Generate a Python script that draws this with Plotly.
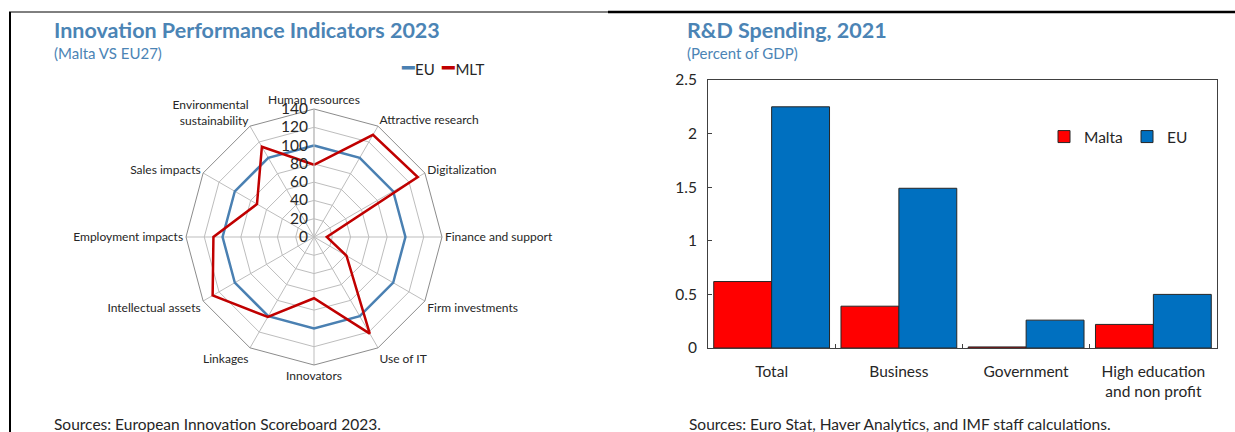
import plotly.graph_objects as go

# Radar: innovation performance (EU27 = 100)
indicators = [
    "Human resources", "Attractive research", "Digitalization",
    "Finance and support", "Firm investments", "Use of IT", "Innovators",
    "Linkages", "Intellectual assets", "Employment impacts", "Sales impacts",
    "Environmental<br>sustainability",
]
eu_scores = [100, 100, 100, 100, 100, 100, 100, 100, 100, 100, 100, 100]
mlt_scores = [79, 129, 131, 14, 41, 122, 67, 101, 128, 110, 72, 114]

# Bars: R&D spending, percent of GDP
sectors = ["Total", "Business", "Government", "High education<br>and non profit"]
malta_rd = [0.62, 0.39, 0.01, 0.22]
eu_rd = [2.25, 1.49, 0.26, 0.50]

TITLE_BLUE = "#4B84B5"
EU_LINE = "#4A80B2"
MLT_LINE = "#C00000"
FONT = "Lato"
W, H = 1235, 432


def px_x(v):
    return v / W


def px_y(v):
    return 1 - v / H


fig = go.Figure()

fig.add_trace(go.Scatterpolar(
    r=eu_scores + eu_scores[:1], theta=indicators + indicators[:1],
    mode="lines", name="EU", line=dict(color=EU_LINE, width=2.5),
    subplot="polar", showlegend=False,
))
fig.add_trace(go.Scatterpolar(
    r=mlt_scores + mlt_scores[:1], theta=indicators + indicators[:1],
    mode="lines", name="MLT", line=dict(color=MLT_LINE, width=2.5),
    subplot="polar", showlegend=False,
))

fig.add_trace(go.Bar(
    x=sectors, y=malta_rd, name="Malta", marker_color="#FF0000",
    marker_line=dict(color="#262626", width=1),
))
fig.add_trace(go.Bar(
    x=sectors, y=eu_rd, name="EU", marker_color="#0070C0",
    marker_line=dict(color="#262626", width=1),
))

cx, cy, rad = 314, 237, 128
fig.update_layout(
    width=W, height=H,
    margin=dict(l=0, r=0, t=0, b=0, autoexpand=False),
    paper_bgcolor="white", plot_bgcolor="white",
    font=dict(family=FONT, color="#262626", size=14),
    barmode="group", bargap=0.09, bargroupgap=0,
    polar=dict(
        domain=dict(x=[px_x(cx - rad), px_x(cx + rad)],
                    y=[px_y(cy + rad), px_y(cy - rad)]),
        bgcolor="white",
        gridshape="linear",
        angularaxis=dict(
            direction="clockwise", rotation=90,
            gridcolor="#BDBDBD", linecolor="#8C8C8C", linewidth=1,
            tickfont=dict(size=12, color="#262626"), ticks="",
        ),
        radialaxis=dict(
            range=[0, 140], dtick=20, angle=90, tickangle=90,
            side="counterclockwise",
            gridcolor="#BDBDBD", linecolor="#BDBDBD", showline=True,
            tickfont=dict(size=15.5, color="#262626"), ticks="",
        ),
    ),
    xaxis=dict(
        domain=[px_x(708), px_x(1217)], anchor="y",
        showline=True, linecolor="#404040", mirror=True,
        ticks="inside", tickson="boundaries", ticklen=4, tickcolor="#404040",
        tickfont=dict(size=15.5), showgrid=False, ticklabelstandoff=9,
    ),
    yaxis=dict(
        domain=[px_y(348), px_y(80)], anchor="x",
        range=[0, 2.5], dtick=0.5,
        showline=True, linecolor="#404040", mirror=True,
        ticks="inside", ticklen=4, tickcolor="#404040",
        tickfont=dict(size=15.5), showgrid=False, zeroline=False,
        ticklabelstandoff=7,
    ),
    legend=dict(
        orientation="h", x=px_x(1044), y=px_y(120), xanchor="left", yanchor="top",
        font=dict(size=15.5), bgcolor="rgba(0,0,0,0)",
        entrywidth=38, entrywidthmode="pixels",
    ),
)

texts = [
    (52, 30, "<b>Innovation Performance Indicators 2023</b>", 21.5, TITLE_BLUE),
    (52, 53, "(Malta VS EU27)", 15, TITLE_BLUE),
    (685, 30, "<b>R&D Spending, 2021</b>", 21.5, TITLE_BLUE),
    (685, 53, "(Percent of GDP)", 15, TITLE_BLUE),
    (52, 424, "Sources: European Innovation Scoreboard 2023.", 15.5, "#262626"),
    (687, 424, "Sources: Euro Stat, Haver Analytics, and IMF staff calculations.", 15.5, "#262626"),
    (399, 66, f"<span style='color:{EU_LINE};font-size:21px'>━</span>EU  "
              f"<span style='color:{MLT_LINE};font-size:21px'>━</span>MLT", 15, "#262626"),
]
for x, y, t, s, c in texts:
    fig.add_annotation(
        x=px_x(x), y=px_y(y), xref="paper", yref="paper", text=t,
        showarrow=False, xanchor="left", yanchor="middle",
        font=dict(size=s, color=c, family=FONT),
    )

# panel frame lines
fig.add_shape(type="line", xref="paper", yref="paper",
              x0=px_x(10), x1=px_x(10), y0=px_y(12), y1=0,
              line=dict(color="black", width=2))
fig.add_shape(type="line", xref="paper", yref="paper",
              x0=px_x(9), x1=px_x(608), y0=px_y(12), y1=px_y(12),
              line=dict(color="black", width=1))
fig.add_shape(type="line", xref="paper", yref="paper",
              x0=px_x(608), x1=1, y0=px_y(12), y1=px_y(12),
              line=dict(color="black", width=2.5))

fig.write_html(
    "out.html",
    config={"displayModeBar": False},
    post_script=(
        "document.documentElement.style.margin='0';"
        "document.body.style.margin='0';"
        "document.documentElement.style.overflow='hidden';"
        "document.body.style.overflow='hidden';"
    ),
)
